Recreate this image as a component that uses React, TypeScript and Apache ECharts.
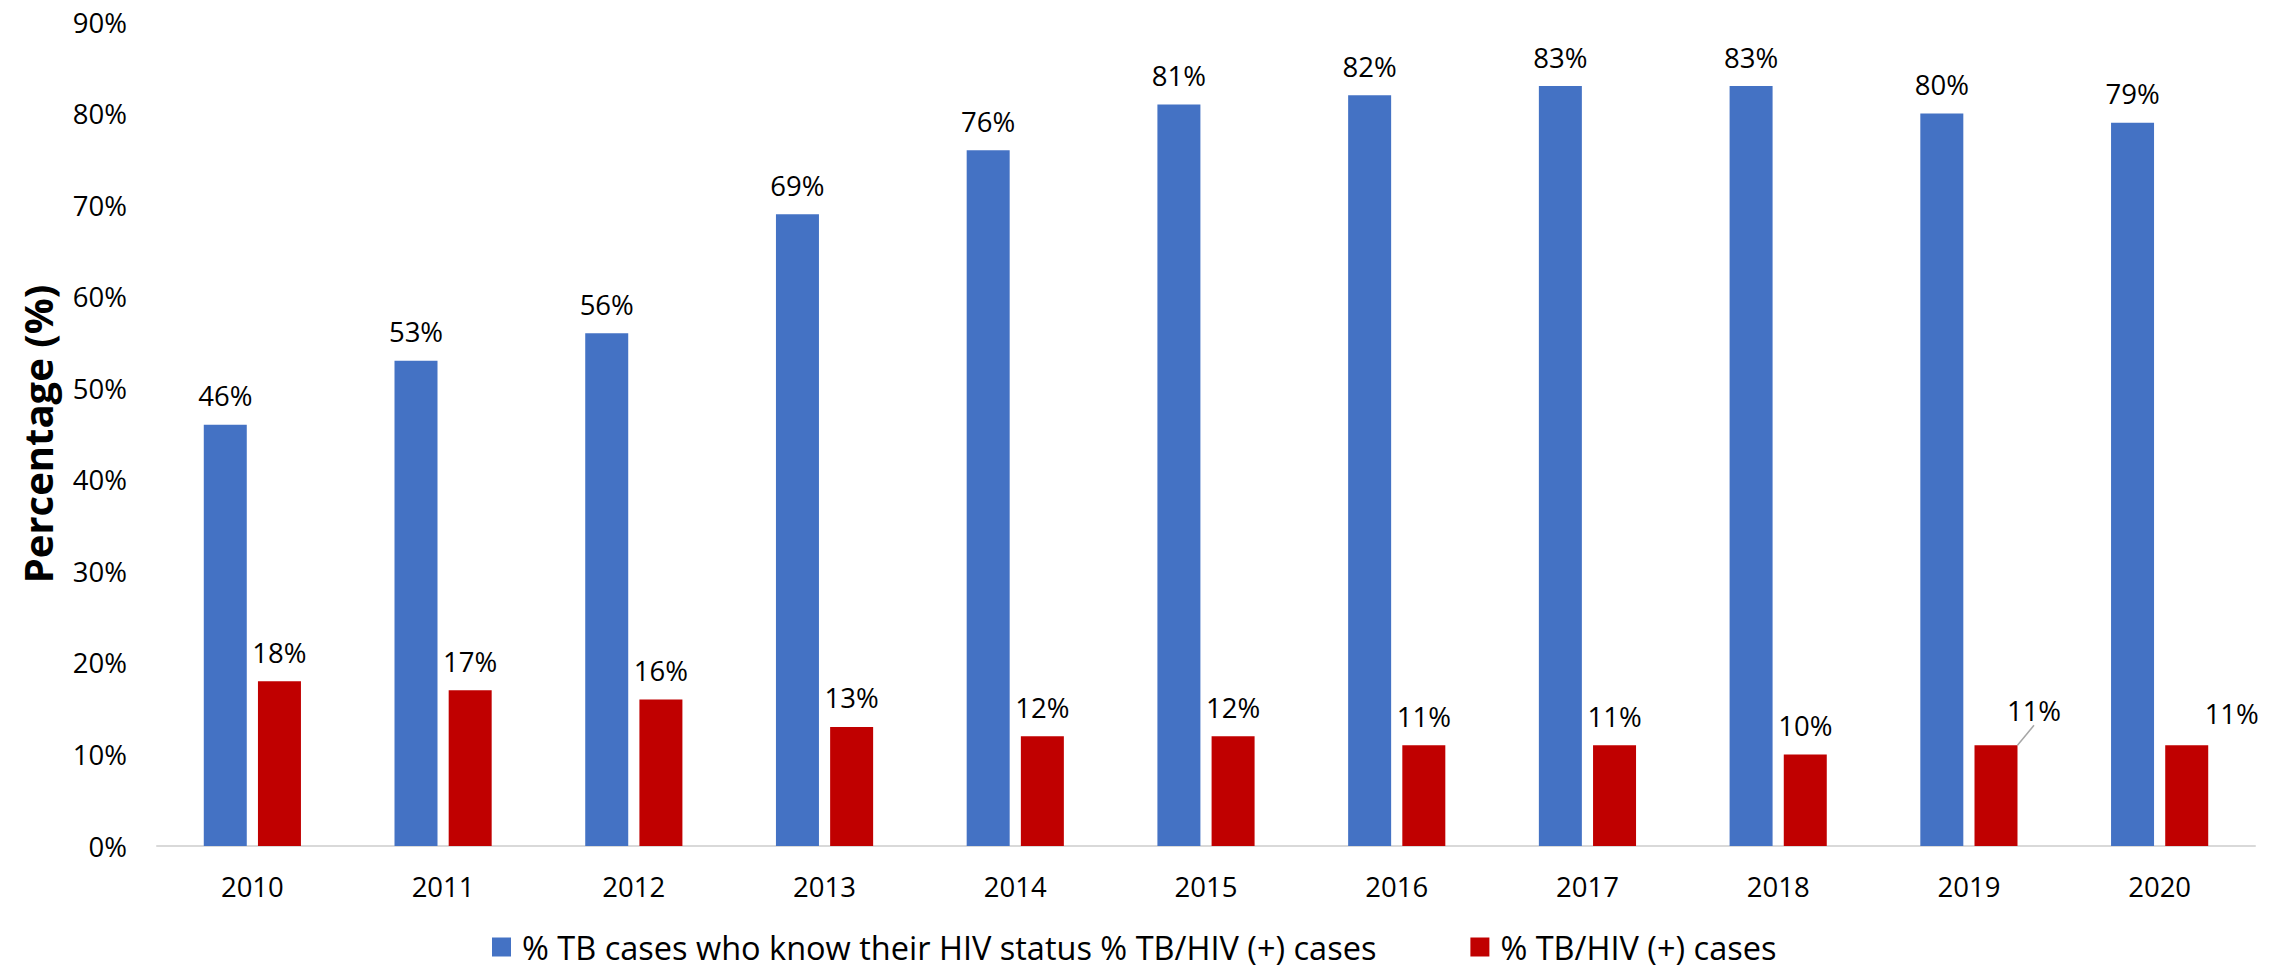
import React, { useEffect, useRef } from "react";
import * as echarts from "echarts";

const years = ["2010", "2011", "2012", "2013", "2014", "2015", "2016", "2017", "2018", "2019", "2020"];
const knowStatus = [46, 53, 56, 69, 76, 81, 82, 83, 83, 80, 79];
const tbHivPositive = [18, 17, 16, 13, 12, 12, 11, 11, 10, 11, 11];
const seriesNames = [
  "% TB cases who know their HIV status % TB/HIV (+) cases",
  "% TB/HIV (+) cases",
];
const yTicks = { min: 0, max: 90, interval: 10 };

const FONT = "'Open Sans', 'Noto Sans', sans-serif";

export default function App() {
  const ref = useRef<HTMLDivElement>(null);

  useEffect(() => {
    if (!ref.current) return;
    const chart = echarts.init(ref.current, null, { renderer: "svg" });

    const labelStyle = {
      show: true,
      position: "top",
      distance: 14,
      formatter: "{c}%",
      fontSize: 27.5,
      lineHeight: 30,
      color: "#000",
      fontFamily: FONT,
    };

    const redData = tbHivPositive.map((v, i) =>
      i === 9
        ? { value: v, labelLine: { show: true, lineStyle: { color: "#A6A6A6", width: 1.5 } } }
        : { value: v }
    );

    chart.setOption({
      animation: false,
      backgroundColor: "#fff",
      grid: { left: 157, right: 33, top: 22, bottom: 125, outerBoundsMode: "none" },
      legend: {
        left: 487,
        top: 925,
        itemWidth: 19,
        itemHeight: 19,
        itemGap: 94,
        icon: "rect",
        textStyle: { fontSize: 32.5, fontFamily: FONT, color: "#000", lineHeight: 34, padding: [0, 0, 0, 6] },
        data: seriesNames,
      },
      xAxis: {
        type: "category",
        data: years,
        axisTick: { show: false },
        axisLine: { lineStyle: { color: "#D9D9D9", width: 2 } },
        axisLabel: { fontSize: 27.5, fontFamily: FONT, color: "#000", margin: 26 },
      },
      yAxis: {
        type: "value",
        min: yTicks.min,
        max: yTicks.max,
        interval: yTicks.interval,
        name: "Percentage (%)",
        nameLocation: "middle",
        nameGap: 100,
        nameTextStyle: { fontSize: 40, fontWeight: "bold", fontFamily: FONT, color: "#000" },
        splitLine: { show: false },
        axisLine: { show: false },
        axisTick: { show: false },
        axisLabel: { formatter: "{value}%", fontSize: 27.5, fontFamily: FONT, color: "#000", margin: 30 },
      },
      series: [
        {
          name: seriesNames[0],
          type: "bar",
          data: knowStatus,
          barWidth: 43,
          barGap: "26%",
          itemStyle: { color: "#4472C4" },
          label: labelStyle,
        },
        {
          name: seriesNames[1],
          type: "bar",
          data: redData,
          barWidth: 43,
          barGap: "26%",
          itemStyle: { color: "#C00000" },
          label: labelStyle,
          labelLine: { show: false },
          labelLayout: (p: any) => {
            if (p.dataIndex === 9) {
              const dx = 38;
              const dy = -6;
              const sx = p.rect.x + p.rect.width / 2;
              const sy = p.rect.y;
              const ex = p.labelRect.x + p.labelRect.width / 2 + dx;
              const ey = p.labelRect.y + p.labelRect.height + dy + 3;
              return {
                dx,
                dy,
                labelLinePoints: [
                  [sx, sy],
                  [(sx + ex) / 2, (sy + ey) / 2],
                  [ex, ey],
                ],
              };
            }
            if (p.dataIndex === 10) {
              return { dx: 45, dy: -3 };
            }
            return {};
          },
        },
      ],
    });

    return () => chart.dispose();
  }, []);

  return (
    <div
      ref={ref}
      style={{ position: "absolute", left: 0, top: 0, width: 2288, height: 971, background: "#fff" }}
    />
  );
}
